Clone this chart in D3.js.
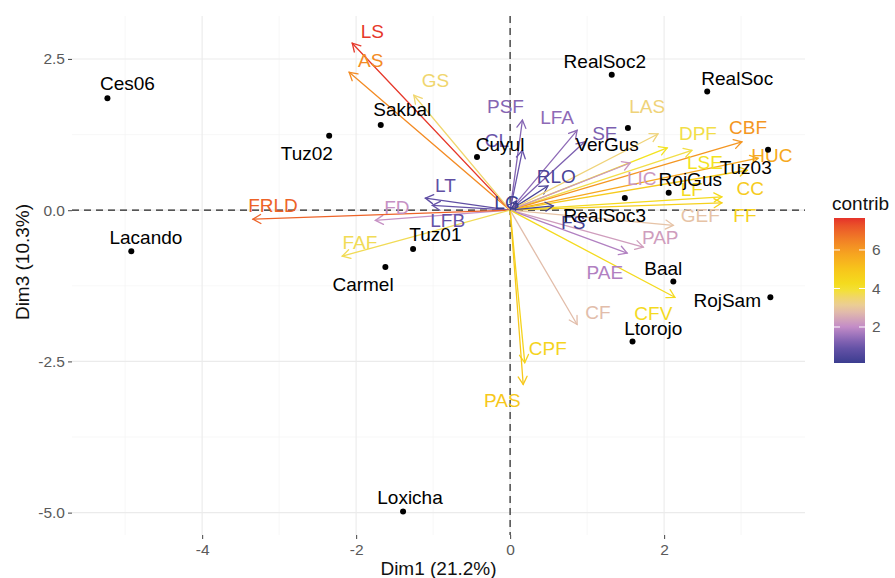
<!DOCTYPE html>
<html>
<head>
<meta charset="utf-8">
<script src="https://cdn.jsdelivr.net/npm/d3@7"></script>
<style>
  body { margin: 0; background: #ffffff; }
  svg text { font-family: "Liberation Sans", Arial, Helvetica, sans-serif; }
</style>
</head>
<body>
<svg id="chart" width="895" height="578"></svg>
<script>
// ---- PCA biplot data (Dim1 vs Dim3) ----
// Individuals: coordinates and repelled label anchors
const individuals = ["Ces06", "Lacando", "Tuz02", "Sakbal", "Cuyul", "RealSoc2", "RealSoc", "VerGus", "Tuz03",
  "RojGus", "RealSoc3", "Baal", "RojSam", "Ltorojo", "Tuz01", "Carmel", "Loxicha"];
const indDim1 = [-5.23, -4.92, -2.35, -1.68, -0.43, 1.32, 2.56, 1.53, 3.35, 2.06, 1.49, 2.12, 3.38, 1.59, -1.26, -1.62, -1.39];
const indDim3 = [1.85, -0.68, 1.23, 1.41, 0.88, 2.24, 1.96, 1.36, 1.00, 0.29, 0.20, -1.18, -1.44, -2.17, -0.64, -0.94, -4.98];
const indLabelDim1 = [-4.97, -4.73, -2.64, -1.40, -0.13, 1.23, 2.95, 1.26, 3.06, 2.34, 1.23, 1.99, 2.82, 1.86, -0.97, -1.91, -1.30];
const indLabelDim3 = [2.09, -0.46, 0.94, 1.66, 1.09, 2.45, 2.17, 1.09, 0.71, 0.51, -0.08, -0.96, -1.49, -1.95, -0.41, -1.23, -4.75];

// Variables: arrow tips, contributions and label anchors
const variables = ["LS", "AS", "GS", "PSF", "CL", "LFA", "SE", "RLO", "LT", "LFB", "FD", "FRLD", "FAF",
  "LAS", "LSE", "DPF", "CBF", "HUC", "CC", "LF", "FF", "GEF", "LIC", "FS", "PAP", "PAE", "CFV", "CF", "CPF", "PAS", "LG"];
const varDim1 = [-2.05, -2.09, -1.25, 0.16, 0.16, 0.87, 0.97, 0.49, -1.10, -1.01, -1.75, -3.34, -2.18,
  1.92, 2.04, 2.36, 3.01, 3.22, 3.08, 2.75, 2.75, 2.12, 1.56, 0.56, 1.73, 1.52, 2.14, 0.87, 0.19, 0.17, 0.08];
const varDim3 = [2.76, 2.28, 1.90, 1.49, 0.99, 1.32, 1.13, 0.40, 0.20, 0.08, -0.17, -0.15, -0.76,
  1.26, 1.03, 0.99, 1.13, 0.86, 0.66, 0.22, 0.12, -0.25, 0.78, 0.07, -0.61, -0.71, -1.44, -1.89, -2.52, -2.88, 0.15];
const varContrib = [7.6, 6.3, 3.5, 1.3, 1.0, 1.4, 1.2, 0.4, 0.8, 0.9, 2.1, 7.0, 3.7,
  3.4, 4.0, 3.8, 6.1, 5.7, 4.8, 4.3, 4.6, 2.9, 2.2, 0.3, 2.3, 1.8, 4.3, 2.8, 4.5, 4.9, 0.13];
const varLabelDim1 = [-1.79, -1.81, -0.97, -0.06, -0.17, 0.61, 1.23, 0.60, -0.84, -0.81, -1.47, -3.08, -1.95,
  1.78, 2.53, 2.44, 3.09, 3.40, 3.12, 2.36, 3.05, 2.47, 1.71, 0.82, 1.95, 1.23, 1.86, 1.14, 0.49, -0.10, -0.04];
const varLabelDim3 = [2.95, 2.47, 2.15, 1.72, 1.16, 1.54, 1.27, 0.55, 0.41, -0.17, 0.05, 0.08, -0.53,
  1.71, 0.79, 1.27, 1.36, 0.91, 0.36, 0.35, -0.08, -0.08, 0.53, -0.20, -0.46, -1.03, -1.71, -1.69, -2.28, -3.15, 0.13];

// Axis / legend ticks and titles
const xTicks = [-4, -2, 0, 2];
const yTicks = [2.5, 0, -2.5, -5];
const xMinor = [-5, -3, -1, 1, 3];
const yMinor = [1.25, -1.25, -3.75];
const legendTicks = [2, 4, 6];
const xTitle = "Dim1 (21.2%)";
const yTitle = "Dim3 (10.3%)";
const legendTitle = "contrib";

// ---- Layout ----
const panel = { left: 72, right: 805, top: 16, bottom: 535 };
const svg = d3.select("#chart");

const x = d3.scaleLinear().domain([-5.69, 3.83]).range([panel.left, panel.right]);
const y = d3.scaleLinear().domain([-5.37, 3.21]).range([panel.bottom, panel.top]);

// contribution colour gradient
const contribExtent = [0.13, 7.66];
const colorStops = [0.13, 1, 2, 3, 4, 5, 6, 7.66];
const colorRange = ["#3b3d8f", "#6a55aa", "#c28bc7", "#e9c9a2", "#f3e31f", "#f7c51b", "#f59b21", "#e5322a"];
const color = d3.scaleLinear().domain(colorStops).range(colorRange).interpolate(d3.interpolateLab);

// ---- Grid ----
const grid = svg.append("g");
grid.selectAll(".vminor").data(xMinor).join("line")
  .attr("x1", d => x(d)).attr("x2", d => x(d)).attr("y1", panel.top).attr("y2", panel.bottom)
  .attr("stroke", "#f3f3f3").attr("stroke-width", 0.7);
grid.selectAll(".hminor").data(yMinor).join("line")
  .attr("y1", d => y(d)).attr("y2", d => y(d)).attr("x1", panel.left).attr("x2", panel.right)
  .attr("stroke", "#f3f3f3").attr("stroke-width", 0.7);
grid.selectAll(".vmajor").data(xTicks).join("line")
  .attr("x1", d => x(d)).attr("x2", d => x(d)).attr("y1", panel.top).attr("y2", panel.bottom)
  .attr("stroke", "#ebebeb").attr("stroke-width", 1.1);
grid.selectAll(".hmajor").data(yTicks).join("line")
  .attr("y1", d => y(d)).attr("y2", d => y(d)).attr("x1", panel.left).attr("x2", panel.right)
  .attr("stroke", "#ebebeb").attr("stroke-width", 1.1);

// ---- Axes ----
const xAxis = svg.append("g").attr("transform", `translate(0,${panel.bottom})`)
  .call(d3.axisBottom(x).tickValues(xTicks).tickFormat(d => String(d)).tickSize(4).tickPadding(5));
const yAxis = svg.append("g").attr("transform", `translate(${panel.left},0)`)
  .call(d3.axisLeft(y).tickValues(yTicks).tickFormat(d => d.toFixed(1)).tickSize(4).tickPadding(3));
[xAxis, yAxis].forEach(a => {
  a.select(".domain").remove();
  a.selectAll(".tick line").attr("stroke", "#555").attr("stroke-width", 1.1);
  a.selectAll(".tick text").attr("fill", "#5a5a5a").style("font-size", "15.5px")
    .style("font-family", "'Liberation Sans', Arial, sans-serif");
});

svg.append("text").attr("x", (panel.left + panel.right) / 2).attr("y", 568)
  .attr("text-anchor", "middle").attr("dominant-baseline", "central")
  .style("font-size", "19px").attr("fill", "#111").text(xTitle);
svg.append("text").attr("transform", "translate(22,262) rotate(-90)")
  .attr("text-anchor", "middle").attr("dominant-baseline", "central")
  .style("font-size", "19px").attr("fill", "#111").text(yTitle);

// ---- Reference lines through the origin ----
svg.append("line").attr("x1", x(0)).attr("x2", x(0)).attr("y1", panel.top).attr("y2", panel.bottom)
  .attr("stroke", "#222").attr("stroke-width", 1.2).attr("stroke-dasharray", "7,5");
svg.append("line").attr("x1", panel.left).attr("x2", panel.right).attr("y1", y(0)).attr("y2", y(0))
  .attr("stroke", "#222").attr("stroke-width", 1.2).attr("stroke-dasharray", "7,5");

// ---- Variable arrows ----
const vars = variables.map((name, i) => ({
  name, d1: varDim1[i], d3: varDim3[i], contrib: varContrib[i],
  l1: varLabelDim1[i], l3: varLabelDim3[i]
}));

const headLen = 9, headAngle = Math.PI / 6;
const arrowG = svg.append("g").attr("fill", "none").attr("stroke-width", 1.3).attr("stroke-linecap", "round");
vars.forEach(v => {
  const x0 = x(0), y0 = y(0), x1 = x(v.d1), y1 = y(v.d3);
  const ang = Math.atan2(y1 - y0, x1 - x0);
  const c = color(v.contrib);
  arrowG.append("line").attr("x1", x0).attr("y1", y0).attr("x2", x1).attr("y2", y1).attr("stroke", c);
  const p = d3.path();
  p.moveTo(x1 - headLen * Math.cos(ang - headAngle), y1 - headLen * Math.sin(ang - headAngle));
  p.lineTo(x1, y1);
  p.lineTo(x1 - headLen * Math.cos(ang + headAngle), y1 - headLen * Math.sin(ang + headAngle));
  arrowG.append("path").attr("d", p.toString()).attr("stroke", c);
});

svg.append("g").selectAll("text").data(vars).join("text")
  .attr("x", d => x(d.l1)).attr("y", d => y(d.l3))
  .attr("text-anchor", "middle").attr("dominant-baseline", "central")
  .style("font-size", "19px").attr("fill", d => color(d.contrib))
  .text(d => d.name);

// ---- Individuals ----
const inds = individuals.map((name, i) => ({
  name, d1: indDim1[i], d3: indDim3[i], l1: indLabelDim1[i], l3: indLabelDim3[i]
}));
svg.append("g").selectAll("circle").data(inds).join("circle")
  .attr("cx", d => x(d.d1)).attr("cy", d => y(d.d3)).attr("r", 3).attr("fill", "#000");
svg.append("g").selectAll("text").data(inds).join("text")
  .attr("x", d => x(d.l1)).attr("y", d => y(d.l3))
  .attr("text-anchor", "middle").attr("dominant-baseline", "central")
  .style("font-size", "19px").attr("fill", "#000")
  .text(d => d.name);

// ---- Colour bar legend ----
const bar = { x: 834, y: 218, w: 31, h: 145 };
const ly = d3.scaleLinear().domain(contribExtent).range([bar.y + bar.h, bar.y]);
const grad = svg.append("defs").append("linearGradient").attr("id", "contribGrad")
  .attr("x1", 0).attr("y1", 1).attr("x2", 0).attr("y2", 0);
d3.range(0, 1.0001, 0.05).forEach(t => {
  const v = contribExtent[0] + t * (contribExtent[1] - contribExtent[0]);
  grad.append("stop").attr("offset", t).attr("stop-color", color(v));
});
svg.append("rect").attr("x", bar.x).attr("y", bar.y).attr("width", bar.w).attr("height", bar.h)
  .attr("fill", "url(#contribGrad)");
const lt = svg.append("g");
legendTicks.forEach(t => {
  lt.append("line").attr("x1", bar.x).attr("x2", bar.x + 6).attr("y1", ly(t)).attr("y2", ly(t))
    .attr("stroke", "#fff").attr("stroke-width", 1);
  lt.append("line").attr("x1", bar.x + bar.w - 6).attr("x2", bar.x + bar.w).attr("y1", ly(t)).attr("y2", ly(t))
    .attr("stroke", "#fff").attr("stroke-width", 1);
  lt.append("text").attr("x", bar.x + bar.w + 7).attr("y", ly(t)).attr("dominant-baseline", "central")
    .style("font-size", "15.5px").attr("fill", "#5a5a5a").text(t);
});
svg.append("text").attr("x", 832).attr("y", 203).attr("dominant-baseline", "central")
  .style("font-size", "19px").attr("fill", "#111").text(legendTitle);
</script>
</body>
</html>
